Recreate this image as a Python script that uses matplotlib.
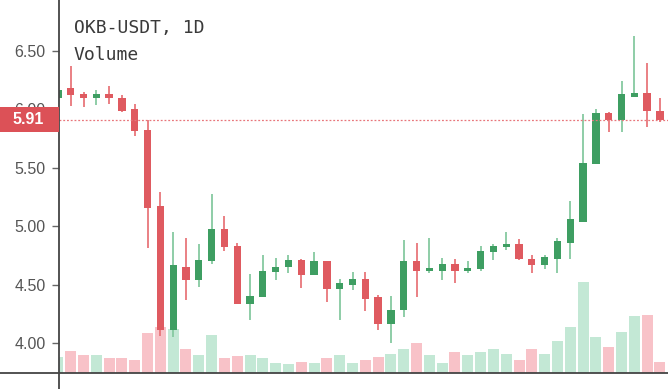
import matplotlib
matplotlib.use("Agg")
import matplotlib.pyplot as plt
from matplotlib.patches import Rectangle
from matplotlib.lines import Line2D
import matplotlib.transforms as mtransforms
import numpy as np

# ---- data ----
opens  = [6.10, 6.18, 6.13, 6.10, 6.13, 6.10, 6.00, 5.82, 5.17, 4.11,
          4.65, 4.54, 4.70, 4.98, 4.83, 4.33, 4.39, 4.61, 4.65, 4.71,
          4.58, 4.70, 4.46, 4.50, 4.55, 4.39, 4.16, 4.28, 4.70, 4.62,
          4.62, 4.68, 4.62, 4.63, 4.78, 4.82, 4.85, 4.72, 4.67, 4.72,
          4.86, 5.04, 5.53, 5.97, 5.91, 6.11, 6.14, 5.99]
highs  = [6.18, 6.37, 6.15, 6.17, 6.20, 6.12, 6.05, 5.91, 5.29, 4.95,
          4.90, 4.85, 5.28, 5.09, 4.86, 4.59, 4.75, 4.73, 4.75, 4.72,
          4.78, 4.70, 4.55, 4.61, 4.61, 4.41, 4.40, 4.88, 4.86, 4.90,
          4.73, 4.72, 4.70, 4.83, 4.85, 4.95, 4.89, 4.75, 4.75, 4.90,
          5.22, 5.96, 6.00, 5.98, 6.24, 6.63, 6.40, 6.10]
lows   = [6.08, 6.03, 6.02, 6.04, 6.05, 5.98, 5.77, 4.81, 4.06, 4.05,
          4.37, 4.48, 4.68, 4.79, 4.33, 4.20, 4.39, 4.54, 4.60, 4.47,
          4.58, 4.35, 4.20, 4.45, 4.27, 4.11, 4.00, 4.22, 4.39, 4.60,
          4.54, 4.51, 4.60, 4.62, 4.71, 4.80, 4.71, 4.60, 4.63, 4.60,
          4.72, 5.04, 5.53, 5.81, 5.81, 6.11, 5.85, 5.89]
closes = [6.17, 6.12, 6.10, 6.13, 6.10, 5.99, 5.815, 5.16, 4.11, 4.67,
          4.54, 4.71, 4.98, 4.82, 4.33, 4.40, 4.62, 4.65, 4.71, 4.58,
          4.70, 4.46, 4.51, 4.55, 4.38, 4.16, 4.28, 4.70, 4.62, 4.64,
          4.68, 4.62, 4.64, 4.79, 4.83, 4.85, 4.72, 4.67, 4.74, 4.87,
          5.06, 5.54, 5.97, 5.91, 6.13, 6.14, 5.99, 5.91]
volumes = [16.3, 22.3, 18.0, 18.0, 14.7, 14.7, 13.0, 39.7, 45.7, 44.0,
           24.0, 18.0, 38.0, 14.7, 17.0, 18.0, 14.7, 10.0, 8.7, 11.3,
           10.0, 14.7, 18.0, 10.0, 13.0, 16.3, 19.3, 24.0, 30.3, 18.0,
           10.0, 21.0, 18.0, 21.0, 24.0, 19.3, 13.0, 24.0, 19.3, 31.7,
           45.7, 91.3, 36.3, 25.7, 41.0, 56.7, 58.3, 11.3]
yticks = [4.00, 4.50, 5.00, 5.50, 6.00, 6.50]
title_lines = ["OKB-USDT, 1D", "Volume"]

# ---- style ----
RED = "#df5a60"
GREEN = "#3e9e62"
RED_WICK = "#e8767b"
GREEN_WICK = "#86c9a0"
VOL_RED = "#f8c2c8"
VOL_GREEN = "#c3e8d5"

W, H, DPI = 668, 389, 100
fig = plt.figure(figsize=(W / DPI, H / DPI), dpi=DPI)
fig.patch.set_facecolor("white")
ax = fig.add_axes([59 / W, 16 / H, 1 - 59 / W, 1 - 16 / H])
ax2 = ax.twinx()

x = np.arange(len(opens))
o = np.array(opens); h = np.array(highs); l = np.array(lows); c = np.array(closes)
up = c >= o

# volume
vcol = [VOL_GREEN if u else VOL_RED for u in up]
ax2.bar(x, volumes, width=0.86, color=vcol, edgecolor="none", zorder=1)
ax2.set_ylim(0, max(volumes) * 4.08)
ax2.axis("off")

# candles
ax.set_zorder(ax2.get_zorder() + 1)
ax.patch.set_visible(False)
wcol = [GREEN_WICK if u else RED_WICK for u in up]
ax.vlines(x, l, h, colors=wcol, linewidth=1.3, zorder=2)
bottoms = np.minimum(o, c)
heights = np.maximum(np.abs(c - o), 0.02)
bcol = [GREEN if u else RED for u in up]
ax.bar(x, heights, bottom=bottoms, width=0.57, color=bcol, edgecolor="none", zorder=3)

# last price line
last = closes[-1]
ax.axhline(last, color="#e8767b", linewidth=0.9, linestyle=(0, (1.5, 1.5)), zorder=4)

ax.set_xlim(0.086, 47.63)
ax.set_ylim(3.743, 6.937)
ax.set_yticks(yticks)
ax.set_yticklabels([f"{v:.2f}" for v in yticks])
ax.tick_params(axis="y", direction="out", length=5, width=1, color="#666",
               labelcolor="#555", labelsize=11.5, pad=4.5)
for lab in ax.get_yticklabels():
    lab.set_fontfamily("Liberation Sans")
ax.set_xticks([])
for s in ax.spines.values():
    s.set_visible(False)
for s in ax2.spines.values():
    s.set_visible(False)

# axis lines spanning the figure
pos = ax.get_position()
fig.add_artist(Line2D([pos.x0, pos.x0], [0, 1], transform=fig.transFigure,
                      color="#444", linewidth=1.3, zorder=6))
fig.add_artist(Line2D([0, 1], [pos.y0, pos.y0], transform=fig.transFigure,
                      color="#444", linewidth=1.3, zorder=6))

# last price label box
blend = mtransforms.blended_transform_factory(fig.transFigure, ax.transData)
half = 12.5 / (H * pos.height) * (ax.get_ylim()[1] - ax.get_ylim()[0])
rect = Rectangle((0, last - half), pos.x0, 2 * half, transform=blend,
                 facecolor="#dc5157", edgecolor="none", zorder=7, clip_on=False)
fig.add_artist(rect)
fig.text(pos.x0 / 2 - 0.002, last, f"{last:.2f}", transform=blend, ha="center", va="center",
         color="white", fontsize=11.5, fontweight="bold", family="Liberation Sans", zorder=8)

# title
fig.text(74 / W, 1 - 33 / H, title_lines[0], family="DejaVu Sans Mono", fontsize=13,
         color="#3a3a3a", va="baseline", ha="left")
fig.text(74 / W, 1 - 59.5 / H, title_lines[1], family="DejaVu Sans Mono", fontsize=13,
         color="#3a3a3a", va="baseline", ha="left")

fig.savefig("out.png", dpi=DPI, facecolor="white")
